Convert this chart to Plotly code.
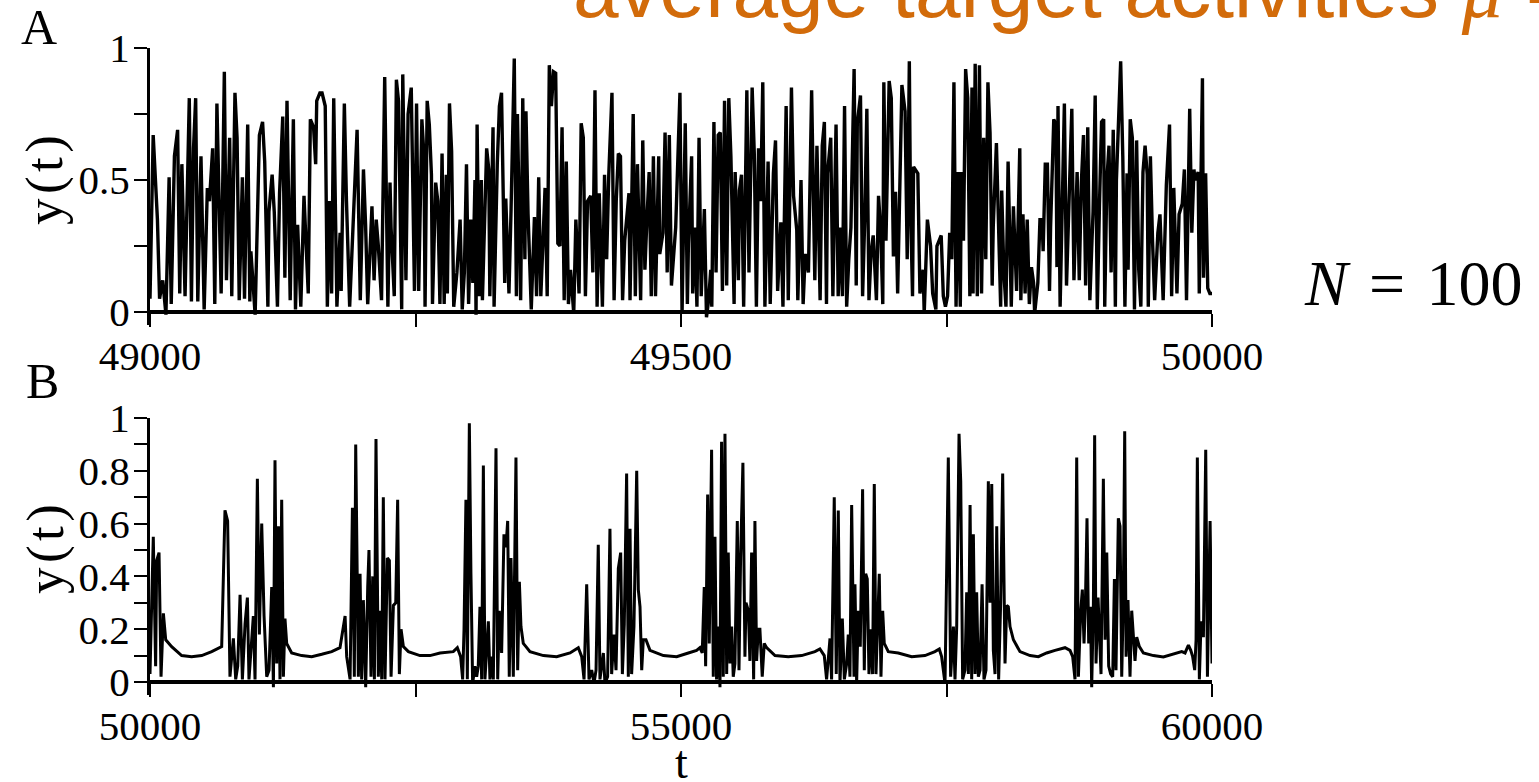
import plotly.graph_objects as go

# ---- Panel A: y(t) for t in [49000, 50000]  (time, activity) ----
SEG_A1 = [(49000, 0.05), (49003, 0.67), (49007, 0.35), (49009, 0.05), (49012, 0.12), (49015, -0.01), (49018, 0.51), (49020, 0.03), (49023, 0.59), (49026, 0.69),
          (49028, 0.07), (49030, 0.56), (49033, 0.06), (49037, 0.81), (49039, 0.04), (49041, 0.62), (49043, 0.81), (49045, 0.04), (49048, 0.59), (49051, 0.01),
          (49054, 0.47), (49056, 0.42), (49059, 0.62), (49061, 0.03), (49063, 0.79), (49067, 0.07), (49070, 0.91), (49072, 0.12), (49075, 0.66), (49077, 0.06),
          (49080, 0.83), (49082, 0.66), (49084, 0.045), (49087, 0.51), (49089, 0.05), (49092, 0.71), (49094, 0.04), (49095, 0.23), (49099, -0.01), (49101, 0.30),
          (49103, 0.67), (49106, 0.72), (49108, 0.57), (49111, 0.02), (49112, 0.38), (49115, 0.52), (49117, 0.38), (49120, 0.02), (49122, 0.45), (49125, 0.74),
          (49127, 0.13), (49129, 0.80), (49132, 0.045), (49135, 0.73), (49137, 0.01), (49139, 0.33), (49142, 0.02), (49145, 0.44), (49149, 0.07), (49151, 0.73),
          (49154, 0.70), (49156, 0.56), (49157, 0.80), (49160, 0.83), (49162, 0.83), (49165, 0.78), (49167, 0.02), (49169, 0.42), (49171, 0.07), (49173, 0.81),
          (49176, 0.02), (49179, 0.30), (49180, 0.08), (49183, 0.79), (49185, 0.42), (49188, 0.02), (49193, 0.56), (49195, 0.69), (49198, 0.045), (49201, 0.54),
          (49203, 0.33), (49205, 0.03), (49209, 0.40), (49211, 0.12), (49213, 0.35), (49215, 0.25), (49218, 0.045), (49221, 0.89), (49224, 0.02), (49226, 0.49),
          (49227, 0.32), (49230, 0.06), (49232, 0.88), (49234, 0.80), (49237, 0.01), (49238, 0.90), (49241, 0.12), (49243, 0.75), (49246, 0.85)]

SEG_A2 = [(49249, 0.08), (49251, 0.79), (49253, 0.08), (49256, 0.73), (49258, 0.59), (49259, 0.02), (49261, 0.80), (49263, 0.71), (49265, 0.52), (49266, 0.03),
          (49269, 0.49), (49271, 0.42), (49273, 0.03), (49275, 0.60), (49277, 0.03), (49279, 0.52), (49280, 0.07), (49282, 0.79), (49284, 0.61), (49286, 0.02),
          (49289, 0.15), (49292, 0.35), (49294, 0.01), (49296, 0.15), (49298, 0.56), (49300, 0.03), (49302, 0.35), (49304, 0.11), (49306, 0.50), (49307, -0.01),
          (49308, 0.71), (49310, 0.06), (49312, 0.50), (49313, 0.045), (49317, 0.62), (49319, 0.54), (49320, 0.06), (49323, 0.70), (49324, 0.02), (49327, 0.56),
          (49329, 0.78), (49331, 0.83), (49334, 0.11), (49335, 0.43), (49338, 0.07), (49340, 0.39), (49343, 0.96), (49345, 0.06), (49346, 0.75), (49349, 0.045),
          (49351, 0.81), (49353, 0.20), (49354, 0.76), (49356, 0.37), (49359, 0.01), (49362, 0.36), (49364, 0.06), (49366, 0.51), (49368, 0.06), (49372, 0.47),
          (49374, 0.06), (49376, 0.935), (49378, 0.78), (49380, 0.91), (49382, 0.905), (49384, 0.26), (49386, 0.25), (49388, 0.70), (49390, 0.045), (49392, 0.57),
          (49394, 0.03), (49396, 0.16), (49399, -0.005), (49401, 0.35), (49404, 0.07), (49406, 0.715), (49408, 0.66), (49410, 0.06), (49412, 0.42), (49415, 0.44),
          (49417, 0.15), (49419, 0.84), (49421, 0.02), (49423, 0.45), (49426, 0.02), (49428, 0.52), (49430, 0.20), (49432, 0.52), (49435, 0.83), (49437, 0.045),
          (49439, 0.42), (49441, 0.60), (49443, 0.59), (49445, 0.045), (49447, 0.27), (49451, 0.45), (49452, 0.045), (49455, 0.75), (49457, 0.06), (49459, 0.56),
          (49462, 0.045), (49464, 0.65), (49466, 0.16), (49468, 0.36), (49470, 0.53), (49472, 0.06), (49474, 0.59), (49476, 0.06), (49479, 0.59), (49480, 0.22),
          (49483, 0.30), (49485, 0.68), (49487, 0.15), (49489, 0.67), (49491, 0.10), (49495, 0.32)]

SEG_A3 = [(49499, 0.83), (49501, -0.005), (49504, 0.715), (49506, 0.03), (49507, 0.26), (49510, 0.59), (49511, 0.07), (49513, 0.32), (49515, 0.02), (49517, 0.66),
          (49519, 0.06), (49522, 0.39), (49524, -0.02), (49526, 0.045), (49528, 0.16), (49529, 0.02), (49531, 0.72), (49533, 0.15), (49535, 0.67), (49537, 0.68),
          (49539, 0.08), (49541, 0.80), (49543, 0.10), (49545, 0.81), (49547, 0.59), (49550, 0.03), (49551, 0.53), (49554, 0.12), (49555, 0.46), (49557, 0.52),
          (49559, 0.02), (49562, 0.84), (49564, 0.15), (49567, 0.85), (49569, 0.60), (49571, 0.02), (49573, 0.62), (49575, 0.42), (49577, 0.87), (49579, 0.02),
          (49582, 0.57), (49584, 0.03), (49587, 0.525), (49589, 0.65), (49591, 0.08), (49594, 0.34), (49596, 0.02), (49599, 0.78), (49601, 0.045), (49604, 0.85),
          (49606, 0.44), (49609, 0.31), (49610, 0.045), (49613, 0.50), (49615, 0.03), (49617, 0.22), (49620, 0.15), (49623, 0.84), (49626, 0.12), (49628, 0.63),
          (49631, 0.045), (49633, 0.63), (49635, 0.72), (49637, 0.03), (49638, 0.525), (49641, 0.66), (49643, 0.06), (49646, 0.71), (49648, 0.06), (49650, 0.32),
          (49652, 0.06), (49654, 0.78), (49656, 0.02), (49658, 0.20), (49660, 0.32), (49663, 0.92), (49665, 0.10), (49666, 0.715), (49669, 0.82), (49671, 0.06),
          (49673, 0.35), (49675, 0.77), (49677, 0.045), (49679, 0.23), (49681, 0.29), (49684, 0.045), (49686, 0.44), (49688, 0.31), (49690, 0.03), (49691, 0.87),
          (49693, 0.27), (49696, 0.875), (49698, 0.81), (49700, 0.21), (49702, 0.455), (49704, 0.07), (49706, 0.45), (49708, 0.86), (49711, 0.76), (49713, 0.20),
          (49715, 0.95), (49716, 0.43), (49718, 0.06), (49719, 0.55), (49723, 0.525), (49725, 0.07), (49728, 0.16), (49729, -0.005), (49732, 0.35), (49733, 0.32),
          (49735, 0.25), (49737, 0.07), (49740, 0.01), (49741, 0.25), (49745, 0.29)]

SEG_A4 = [(49747, 0.06), (49749, 0.02), (49751, 0.06), (49753, 0.30), (49755, 0.20), (49757, 0.87), (49759, 0.02), (49761, 0.53), (49763, 0.02), (49764, 0.53),
          (49766, 0.27), (49768, 0.92), (49770, 0.81), (49772, 0.06), (49774, 0.85), (49775, 0.07), (49777, 0.94), (49779, 0.06), (49781, 0.935), (49783, 0.07),
          (49785, 0.66), (49787, 0.20), (49789, 0.87), (49791, 0.68), (49793, 0.10), (49794, 0.32), (49797, 0.64), (49799, 0.26), (49801, 0.02), (49802, 0.46),
          (49804, 0.15), (49806, 0.02), (49808, 0.57), (49811, 0.02), (49813, 0.40), (49816, 0.08), (49819, 0.62), (49820, 0.045), (49822, 0.37), (49824, 0.07),
          (49826, 0.35), (49828, 0.03), (49830, 0.17), (49832, 0.11), (49833, -0.005), (49836, 0.11), (49838, 0.35), (49840, 0.35), (49841, 0.23), (49843, 0.56),
          (49845, 0.56), (49847, 0.08), (49848, 0.32), (49851, 0.73), (49853, 0.71), (49854, 0.17), (49855, 0.78), (49857, 0.02), (49859, 0.35), (49861, 0.79),
          (49863, 0.10), (49865, 0.40), (49868, 0.77), (49870, 0.12), (49873, 0.53), (49875, 0.12), (49877, 0.49), (49879, 0.67), (49881, 0.10), (49883, 0.70),
          (49885, 0.045), (49887, 0.27), (49888, 0.38), (49890, 0.82), (49892, 0.01), (49894, 0.40), (49896, 0.72), (49898, 0.73), (49899, 0.02), (49901, 0.50),
          (49903, 0.63), (49905, 0.15), (49907, 0.69), (49909, 0.02), (49910, 0.50), (49914, 0.95), (49916, 0.59), (49918, 0.02), (49920, 0.525), (49921, 0.16),
          (49923, 0.73), (49925, 0.66), (49927, 0.01), (49929, 0.65), (49931, 0.16), (49933, 0.02), (49935, 0.53), (49937, 0.63), (49939, 0.52), (49940, 0.02),
          (49942, 0.59), (49944, 0.27), (49946, 0.045), (49949, 0.30), (49951, 0.37), (49954, 0.045), (49955, 0.19), (49957, 0.48), (49960, 0.71), (49962, 0.06),
          (49964, 0.47), (49967, 0.07), (49969, 0.37), (49972, 0.41), (49974, 0.54), (49976, 0.045), (49979, 0.77), (49981, 0.30), (49983, 0.54), (49984, 0.50),
          (49987, 0.53), (49988, 0.07), (49991, 0.885), (49992, 0.13), (49994, 0.525), (49996, 0.09), (49998, 0.07), (50000, 0.07)]

# ---- Panel B: y(t) for t in [50000, 60000] ----
SEG_B1 = [(50000, 0.03), (50031, 0.55), (50053, 0.06), (50063, 0.46), (50085, 0.49), (50104, 0.02), (50126, 0.26), (50148, 0.16), (50204, 0.134), (50298, 0.10),
          (50392, 0.096), (50487, 0.10), (50581, 0.115), (50675, 0.134), (50706, 0.65), (50731, 0.61), (50753, 0.02), (50785, 0.165), (50807, 0.01), (50826, 0.06),
          (50848, 0.33), (50870, 0.01), (50895, 0.22), (50917, 0.32), (50932, 0.01), (50951, 0.12), (50973, 0.25), (50989, 0.01), (51011, 0.77), (51030, 0.18),
          (51052, 0.60), (51074, 0.25), (51099, 0.02), (51121, 0.045), (51146, 0.36), (51162, -0.02), (51177, 0.84), (51193, 0.07), (51209, 0.59), (51224, 0.01),
          (51240, 0.69), (51256, 0.02), (51271, 0.24), (51287, 0.146), (51334, 0.11), (51428, 0.10), (51523, 0.096), (51617, 0.105), (51711, 0.115), (51789, 0.13),
          (51837, 0.25), (51852, 0.096), (51884, 0.01), (51906, 0.66), (51924, 0.02), (51937, 0.90), (51962, 0.02), (51978, 0.41), (51993, 0.01), (52009, 0.31),
          (52031, -0.02), (52050, 0.36), (52062, 0.50), (52081, 0.02), (52097, 0.40), (52113, 0.01), (52128, 0.92), (52150, 0.02), (52166, 0.27), (52182, 0.01),
          (52197, 0.70), (52213, 0.01), (52235, 0.47), (52254, 0.46), (52270, 0.02), (52292, 0.29), (52314, 0.30), (52332, 0.69), (52348, 0.03), (52364, 0.20),
          (52386, 0.134), (52433, 0.115)]

SEG_B2 = [(52542, 0.10), (52636, 0.10), (52731, 0.11), (52856, 0.115), (52894, 0.13), (52925, 0.096), (52944, 0.01), (52957, 0.20), (52975, 0.69), (52988, 0.01),
          (53007, 0.98), (53022, 0.41), (53038, -0.005), (53060, 0.06), (53076, 0.02), (53091, 0.06), (53107, 0.285), (53123, 0.01), (53139, 0.82), (53154, 0.01),
          (53170, 0.146), (53186, 0.23), (53201, 0.01), (53217, 0.096), (53233, 0.01), (53258, 0.885), (53274, 0.01), (53289, 0.27), (53311, 0.11), (53333, 0.56),
          (53352, 0.51), (53368, 0.61), (53383, 0.02), (53399, 0.47), (53421, 0.02), (53446, 0.85), (53462, 0.045), (53478, 0.38), (53493, 0.21), (53515, 0.146),
          (53540, 0.134), (53578, 0.115), (53704, 0.10), (53829, 0.096), (53955, 0.11), (54033, 0.13), (54065, 0.096), (54087, 0.01), (54112, 0.37), (54134, 0.01),
          (54159, 0.045), (54181, -0.005), (54200, 0.045), (54221, 0.52), (54237, 0.01), (54269, 0.11), (54284, -0.005), (54309, 0.02), (54331, 0.58), (54347, 0.03),
          (54369, 0.18), (54388, 0.045), (54410, 0.43), (54432, 0.49), (54448, 0.03), (54466, 0.22), (54488, 0.79), (54504, 0.02), (54520, 0.58), (54535, 0.03),
          (54557, 0.21), (54583, 0.80), (54598, 0.35), (54614, 0.285), (54630, 0.045), (54645, 0.16), (54670, 0.16), (54708, 0.12), (54834, 0.10), (54959, 0.096)]

SEG_B3 = [(55069, 0.11), (55147, 0.12), (55178, 0.13), (55200, 0.11), (55219, 0.36), (55232, 0.06), (55251, 0.71), (55266, 0.146), (55288, 0.88), (55304, 0.02),
          (55320, 0.55), (55335, 0.01), (55351, 0.21), (55367, -0.02), (55382, 0.91), (55398, 0.02), (55414, 0.94), (55430, 0.03), (55445, 0.49), (55461, 0.07),
          (55477, 0.21), (55492, 0.02), (55508, 0.07), (55530, 0.61), (55546, 0.045), (55561, 0.47), (55583, 0.83), (55602, 0.096), (55612, 0.30), (55634, 0.27),
          (55649, 0.08), (55665, 0.49), (55684, 0.01), (55696, 0.61), (55712, 0.08), (55728, 0.20), (55743, 0.20), (55765, 0.02), (55784, 0.146), (55806, 0.13),
          (55885, 0.10), (56010, 0.096), (56136, 0.10), (56261, 0.115), (56308, 0.125), (56349, 0.10), (56371, 0.01), (56403, 0.165), (56418, 0.01), (56443, 0.70),
          (56462, 0.03), (56481, 0.65), (56497, -0.005), (56519, 0.24), (56538, 0.01), (56560, 0.07), (56575, 0.18), (56591, 0.02), (56607, 0.67), (56629, 0.02),
          (56638, 0.37), (56654, -0.005), (56669, 0.27), (56688, 0.134), (56710, 0.73), (56726, 0.045), (56739, 0.41), (56754, 0.39), (56770, 0.03), (56789, 0.20),
          (56804, 0.03), (56820, 0.75), (56836, 0.03), (56852, 0.25), (56867, 0.41), (56883, 0.02), (56899, 0.27), (56914, 0.146), (56952, 0.115), (57046, 0.11),
          (57172, 0.096), (57297, 0.10), (57391, 0.115), (57432, 0.125), (57454, 0.096)]

SEG_B4 = [(57486, -0.005), (57517, 0.85), (57539, 0.02), (57565, 0.21), (57580, 0.01), (57596, 0.21), (57618, 0.94), (57634, 0.76), (57652, 0.01), (57674, 0.045),
          (57690, 0.34), (57706, 0.03), (57722, 0.67), (57737, 0.01), (57753, 0.56), (57769, 0.03), (57784, 0.34), (57800, 0.02), (57816, 0.045), (57835, 0.37),
          (57853, 0.01), (57872, 0.045), (57894, 0.76), (57910, 0.30), (57926, 0.75), (57941, 0.12), (57957, 0.03), (57973, 0.59), (57991, 0.01), (58010, 0.30),
          (58029, 0.79), (58051, 0.07), (58067, 0.29), (58082, 0.285), (58098, 0.21), (58130, 0.16), (58192, 0.115), (58287, 0.10), (58365, 0.096), (58443, 0.11),
          (58522, 0.12), (58616, 0.13), (58663, 0.12), (58688, 0.096), (58710, 0.01), (58726, 0.85), (58742, 0.02), (58764, 0.27), (58779, 0.35), (58795, 0.146),
          (58808, 0.30), (58823, 0.62), (58839, 0.146), (58855, 0.285), (58867, -0.02), (58883, 0.285), (58895, 0.935), (58908, 0.07), (58927, 0.32), (58939, 0.17),
          (58955, 0.03), (58977, 0.77), (58993, 0.16), (59009, 0.49), (59027, 0.06), (59046, 0.03), (59065, 0.02), (59081, 0.39), (59096, 0.045), (59118, 0.62),
          (59134, 0.59), (59150, 0.02), (59165, 0.31), (59178, 0.95), (59191, 0.096), (59209, 0.31), (59228, 0.02), (59244, 0.27), (59260, 0.16), (59275, 0.08),
          (59291, 0.17), (59316, 0.134), (59354, 0.11), (59448, 0.10), (59542, 0.095), (59636, 0.105), (59715, 0.115), (59746, 0.11), (59778, 0.14), (59800, 0.12),
          (59818, 0.096), (59837, 0.045), (59850, 0.16), (59862, 0.85), (59881, 0.01), (59897, 0.23), (59919, 0.17), (59941, 0.88), (59957, 0.02), (59982, 0.61),
          (60000, 0.07)]

# ---- axis ticks ----
XTICKS_A = [49000, 49250, 49500, 49750, 50000]
XTEXT_A = ["49000", "", "49500", "", "50000"]
YTICKS_A = [0, 0.25, 0.5, 0.75, 1]
YTEXT_A = ["0", "", "0.5", "", "1"]
XTICKS_B = [50000, 52500, 55000, 57500, 60000]
XTEXT_B = ["50000", "", "55000", "", "60000"]
YTICKS_B = [0, 0.1, 0.2, 0.3, 0.4, 0.5, 0.6, 0.7, 0.8, 0.9, 1.0]
YTEXT_B = ["0", "", "0.2", "", "0.4", "", "0.6", "", "0.8", "", "1"]


def unzip(*segments):
    pts = [p for seg in segments for p in seg]
    return [p[0] for p in pts], [p[1] for p in pts]


t_a, y_a = unzip(SEG_A1, SEG_A2, SEG_A3, SEG_A4)
t_b, y_b = unzip(SEG_B1, SEG_B2, SEG_B3, SEG_B4)

W, H = 1539, 782
SERIF = "Liberation Serif"
SANS = "Liberation Sans"


def fx(px):
    return px / W


def fy(px):
    return 1 - px / H


# plot geometry (pixels): left/right edge, y=1 row and y=0 row of each panel
LEFT, RIGHT = 150, 1212
A_TOP, A_ZERO = 48, 312
B_TOP, B_ZERO = 418, 682
YMIN = -0.05

fig = go.Figure()
fig.add_trace(go.Scatter(x=t_a, y=y_a, mode="lines", line=dict(color="black", width=3.4),
                         xaxis="x", yaxis="y", showlegend=False, hoverinfo="skip"))
fig.add_trace(go.Scatter(x=t_b, y=y_b, mode="lines", line=dict(color="black", width=3),
                         xaxis="x2", yaxis="y2", showlegend=False, hoverinfo="skip"))

tickfont = dict(family=SERIF, size=41, color="black")
xcommon = dict(showgrid=False, zeroline=False, showline=True, linecolor="black", linewidth=4,
               ticks="outside", ticklen=13, tickwidth=2, tickcolor="black", tickfont=tickfont,
               tickmode="array", domain=[fx(LEFT), fx(RIGHT)], anchor="free", automargin=False,
               ticklabelstandoff=-6, fixedrange=True)
ycommon = dict(showgrid=False, zeroline=False, showline=True, linecolor="black", linewidth=3,
               ticks="outside", ticklen=13, tickwidth=2, tickcolor="black", tickfont=tickfont,
               tickmode="array", ticklabelstandoff=-4, automargin=False, fixedrange=True)


def ydomain(top, zero):
    bottom = zero + (0 - YMIN) * (zero - top)
    return [fy(bottom), fy(top)]


fig.update_layout(
    template="none",
    width=W, height=H,
    margin=dict(l=0, r=0, t=0, b=0, pad=0, autoexpand=False),
    paper_bgcolor="white", plot_bgcolor="white",
    xaxis=dict(xcommon, range=[49000, 50000], tickvals=XTICKS_A, ticktext=XTEXT_A,
               position=fy(A_ZERO)),
    yaxis=dict(ycommon, range=[YMIN, 1], tickvals=YTICKS_A, ticktext=YTEXT_A,
               domain=ydomain(A_TOP, A_ZERO), anchor="x"),
    xaxis2=dict(xcommon, range=[50000, 60000], tickvals=XTICKS_B, ticktext=XTEXT_B,
                position=fy(B_ZERO)),
    yaxis2=dict(ycommon, range=[YMIN, 1], tickvals=YTICKS_B, ticktext=YTEXT_B,
                domain=ydomain(B_TOP, B_ZERO), anchor="x2"),
)


def label(text, x, y, size, family=SERIF, angle=0, color="black", xanchor="center", yanchor="middle"):
    fig.add_annotation(text=text, x=fx(x), y=fy(y), xref="paper", yref="paper",
                       showarrow=False, textangle=angle, xanchor=xanchor, yanchor=yanchor,
                       font=dict(family=family, size=size, color=color))


YT = "y\u200a(\u200at\u200a)"
label("A", 39, 27, 50)
label("B", 42, 381, 50)
label(YT, 45, 180, 53, angle=-90)
label(YT, 45, 549, 53, angle=-90)
label("t", 681, 762, 46)
label("<i>N</i>\u200a = \u200a100", 1413, 283, 64)
label("average target activities <span style='font-family:Liberation Serif'><i>μ</i></span> =",
      571, 37, 82, family=SANS, color="#D26B0A", xanchor="left", yanchor="bottom")

fig.write_html("out.html")
